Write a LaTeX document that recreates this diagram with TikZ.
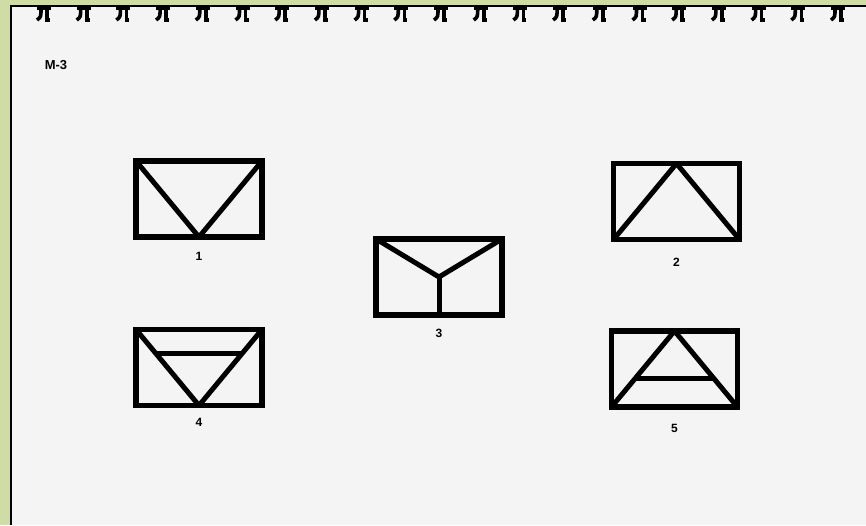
\documentclass[tikz,border=0pt]{standalone}
\usepackage{fontspec}
\setmainfont{Liberation Sans}
\usetikzlibrary{positioning,calc}

\definecolor{leaf}{RGB}{208,220,165}
\definecolor{paper}{RGB}{244,244,244}

\begin{document}
\begin{tikzpicture}[x=1pt, y=-1pt,
  panel/.style={draw, line width=5.8pt, minimum width=126pt, minimum height=76pt, inner sep=0pt, outer sep=0pt},
  stroke/.style={line width=5pt, line join=round},
  num/.style={font=\bfseries\fontsize{12}{13}\selectfont, inner sep=0pt},
  ring/.style={line width=3.6pt}]
  \useasboundingbox (0,0) rectangle (866,525);
  % scanned page on a leafy background
  \fill[leaf] (0,0) rectangle (866,525);
  \fill[paper] (11,6) rectangle (866,525);
  \draw[line width=1.5pt] (11,525) -- (11,6) -- (866,6);
  % spiral binding
  \foreach \i in {0,...,20} {
    \begin{scope}[shift={(44+39.7*\i,0)}]
      \draw[ring] (-7,8) -- (7,8);
      \draw[ring] (-3,8) .. controls (-3,17) .. (-7,20);
      \draw[ring] (3,8) -- (3,20) -- (6,20);
    \end{scope}
  }
  \node[font=\bfseries\fontsize{13}{14}\selectfont, inner sep=0pt] (title) at (56,65) {M-3};

  \node[panel] (f1) at (199,199) {};
  \node[panel] (f2) at (676.5,201.5) {};
  \node[panel] (f3) at (439,277) {};
  \node[panel] (f4) at (199,367.5) {};
  \node[panel] (f5) at (674.5,369) {};

  \draw[stroke] (f1.north west) -- (f1.south) -- (f1.north east);
  \draw[stroke] (f2.south west) -- (f2.north) -- (f2.south east);
  \draw[stroke] (f3.north west) -- (f3.center) -- (f3.north east);
  \draw[stroke] (f3.center) -- (f3.south);
  \draw[stroke] (f4.north west) -- (f4.south) -- (f4.north east);
  \draw[stroke] ($(f4.north west)!0.31!(f4.south)$) -- ($(f4.north east)!0.31!(f4.south)$);
  \draw[stroke] (f5.south west) -- (f5.north) -- (f5.south east);
  \draw[stroke] ($(f5.north)!0.62!(f5.south west)$) -- ($(f5.north)!0.62!(f5.south east)$);

  \node[num, below=15pt of f1] (n1) {1};
  \node[num, below=18pt of f2] (n2) {2};
  \node[num, below=14pt of f3] (n3) {3};
  \node[num, below=13pt of f4] (n4) {4};
  \node[num, below=17pt of f5] (n5) {5};
\end{tikzpicture}
\end{document}
